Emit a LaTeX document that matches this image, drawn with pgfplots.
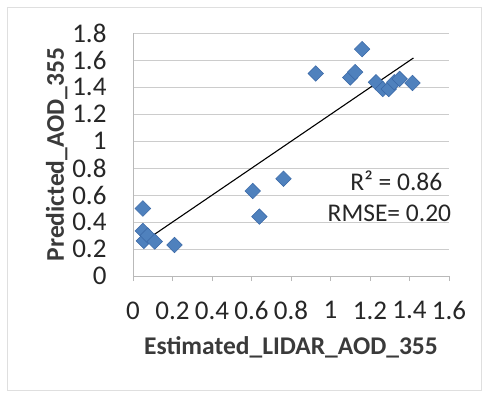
\documentclass[border=0pt]{standalone}
\usepackage{pgfplots}
\pgfplotsset{compat=1.18}
\usepackage{fontspec}
\setmainfont{Carlito}
\definecolor{ptblue}{HTML}{4F81BD}
\definecolor{ptedge}{HTML}{3A68A6}
\definecolor{txt}{HTML}{262626}
\definecolor{lbl}{HTML}{3A3A3A}

\begin{document}
\begin{tikzpicture}
\useasboundingbox (0,0) rectangle (483bp,393bp);
\draw[gray!25, line width=0.8bp] (7bp,3bp) rectangle (481bp,386bp);
\begin{axis}[
  at={(133bp,117bp)}, anchor=south west,
  scale only axis, width=316bp, height=243bp,
  xmin=0, xmax=1.6, ymin=0, ymax=1.8,
  xtick={0,0.2,...,1.6}, ytick={0,0.2,...,1.8},
  xticklabels={0,0.2,0.4,0.6,0.8,1,1.2,1.4,1.6},
  yticklabels={0,0.2,0.4,0.6,0.8,1,1.2,1.4,1.6,1.8},
  axis x line*=bottom, axis y line*=left,
  axis line style={gray!55, line width=0.6bp, -},
  ymajorgrids, grid style={gray!40, line width=0.6bp},
  x tick style={gray!55, line width=0.6bp},
  tick align=outside, major tick length=5bp,
  y tick style={draw=none},
  /pgf/number format/assume math mode=true,
  tick label style={font=\fontsize{27bp}{30bp}\selectfont, text=txt},
  yticklabel style={xshift=-18bp},
  xticklabel style={yshift=-17bp},
  xlabel={\bfseries Estimated\_LIDAR\_AOD\_355},
  ylabel={\bfseries Predicted\_AOD\_355},
  label style={font=\fontsize{25.5bp}{28bp}\selectfont, text=lbl},
  xlabel style={yshift=-10bp},
  ylabel style={yshift=-2bp},
  clip=false,
]
% observed vs predicted AOD at 355 nm
\addplot[only marks, mark=square*, mark size=5.5bp,
  mark options={rotate=45, fill=ptblue, draw=ptedge, line width=0.5bp}]
coordinates {
  (0.05,0.50) (0.05,0.334) (0.055,0.26) (0.075,0.30) (0.11,0.255)
  (0.21,0.23) (0.606,0.63) (0.64,0.44) (0.762,0.72) (0.925,1.50)
  (1.10,1.47) (1.125,1.51) (1.16,1.68) (1.23,1.435) (1.265,1.385)
  (1.295,1.385) (1.323,1.435) (1.35,1.46) (1.415,1.43)
};
% linear fit
\addplot[black, line width=1.1bp] coordinates {(0.05,0.25) (1.42,1.615)};
\node[anchor=east, inner sep=0pt, font=\fontsize{25.5bp}{28bp}\selectfont, text=txt] at (axis cs:1.567,0.707) {R² = 0.86};
\node[anchor=east, inner sep=0pt, font=\fontsize{25.5bp}{28bp}\selectfont, text=txt] at (axis cs:1.612,0.465) {RMSE= 0.20};
\end{axis}
\end{tikzpicture}
\end{document}
